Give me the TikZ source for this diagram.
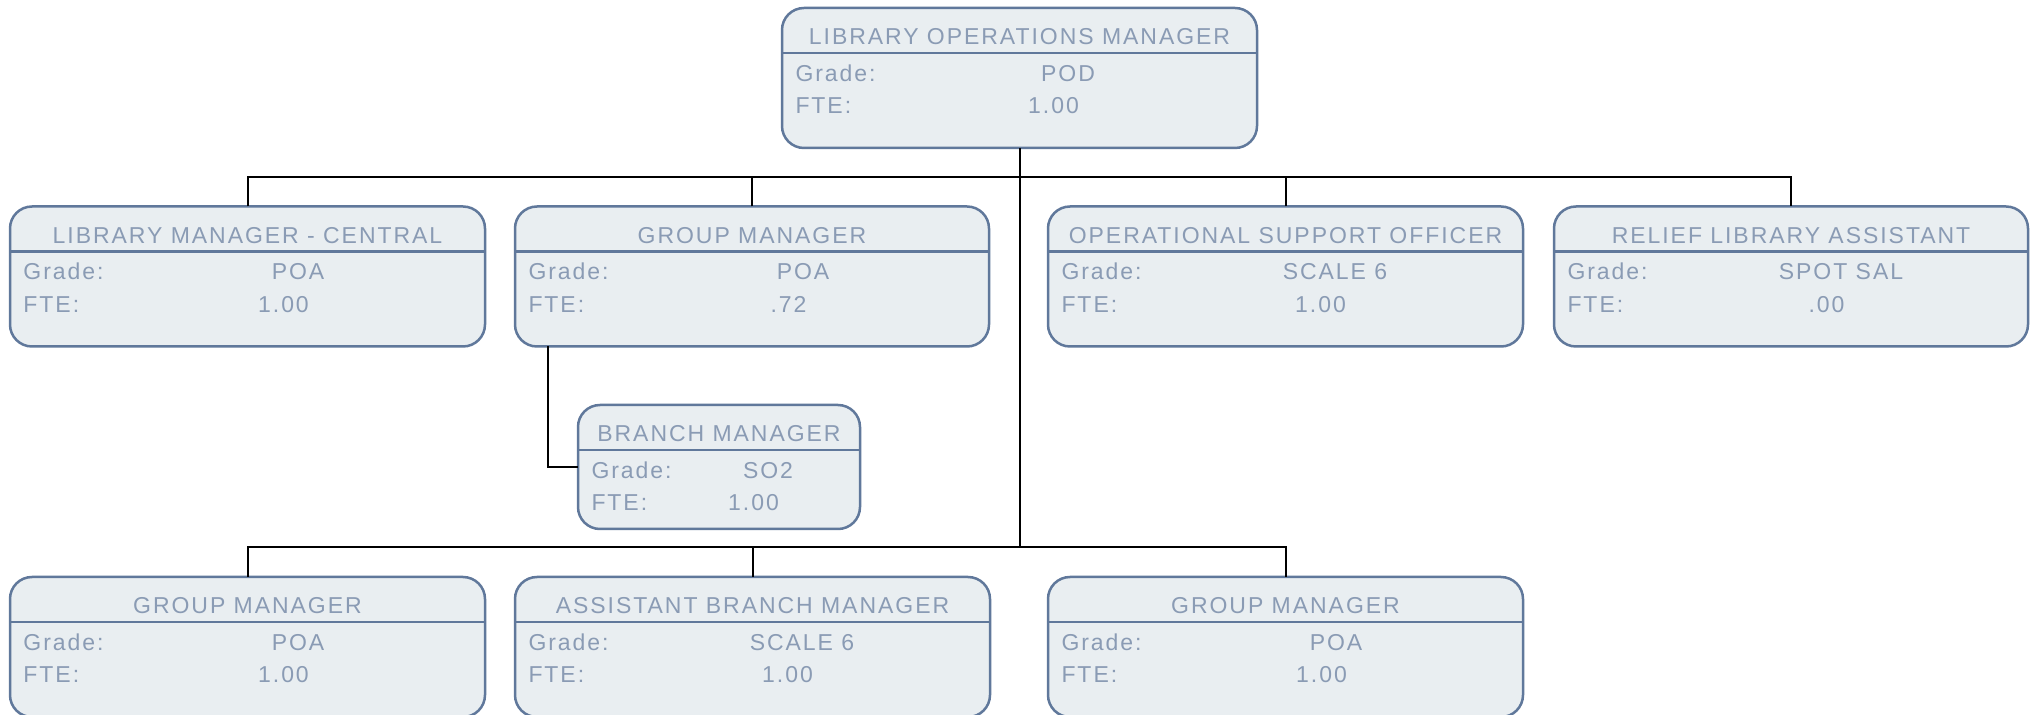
\documentclass[tikz,border=0pt]{standalone}
\usepackage{fontspec}
\newfontfamily\boxfont[LetterSpace=8.5]{Liberation Sans}
\definecolor{bord}{HTML}{60789B}
\definecolor{boxfill}{HTML}{E9EEF1}
\definecolor{txtc}{HTML}{8A9BB4}
\tikzset{
  obox/.style={draw=bord, fill=boxfill, line width=1.25pt, rounded corners=11pt,
    rectangle, anchor=north west, inner sep=0pt, outer sep=0pt},
  hline/.style={draw=bord, line width=1.25pt},
  lbl/.style={inner sep=0pt, outer sep=0pt, text=txtc, font=\boxfont\fontsize{11.5pt}{13pt}\selectfont},
  conn/.style={draw=black, line width=1pt},
}
% #1 name, #2 left, #3 top, #4 width, #5 height, #6 title, #7 grade, #8 fte, #9 grade offset
\newcommand\orgbox[9]{%
  \node[obox, minimum width={#4*0.5pt}, minimum height={#5*0.5pt}] (#1) at (#2,#3) {};
  \draw[hline] ([yshift=-22.5pt]#1.north west) -- ([yshift=-22.5pt]#1.north east);
  \node[lbl, anchor=base] (#1-title) at ({#2+#4/2},{#3+37}) {#6};
  \node[lbl, anchor=base west] (#1-gl) at ({#2+13.5},{#3+73.5}) {Grade:};
  \node[lbl, anchor=base] (#1-gv) at ({#2+#9},{#3+73.5}) {#7};
  \node[lbl, anchor=base west] (#1-fl) at ({#2+13.5},{#3+106}) {FTE:};
  \node[lbl, anchor=base] (#1-fv) at ({#2+#9-14.5},{#3+106}) {#8};
}
\begin{document}
\begin{tikzpicture}[x=0.5pt,y=-0.5pt]
\useasboundingbox[fill=white] (0,0) rectangle (2031,715);
\coordinate (busA) at (0,177);
\coordinate (busB) at (0,547);

\orgbox{top}{782}{8}{475}{140}{LIBRARY OPERATIONS MANAGER}{POD}{1.00}{286}
\orgbox{lm}{10}{206.5}{475}{140}{LIBRARY MANAGER - CENTRAL}{POA}{1.00}{288}
\orgbox{gmA}{515}{206.5}{474}{140}{GROUP MANAGER}{POA}{.72}{288}
\orgbox{oso}{1048}{206.5}{475}{140}{OPERATIONAL SUPPORT OFFICER}{SCALE 6}{1.00}{287}
\orgbox{rla}{1554}{206.5}{474}{140}{RELIEF LIBRARY ASSISTANT}{SPOT SAL}{.00}{287}
\orgbox{bm}{578}{405}{282}{124}{BRANCH MANAGER}{SO2}{1.00}{190}
\orgbox{gmB}{10}{577}{475}{140}{GROUP MANAGER}{POA}{1.00}{288}
\orgbox{abm}{515}{577}{475}{140}{ASSISTANT BRANCH MANAGER}{SCALE 6}{1.00}{287}
\orgbox{gmC}{1048}{577}{475}{140}{GROUP MANAGER}{POA}{1.00}{288}

% connectors
\draw[conn] (top.south) -- (top.south |- busB);
\draw[conn] (lm.north) -- (lm.north |- busA) -- (rla.north |- busA) -- (rla.north);
\draw[conn] (gmA.north) -- (gmA.north |- busA);
\draw[conn] (oso.north) -- (oso.north |- busA);
\draw[conn] (gmB.north) -- (gmB.north |- busB) -- (gmC.north |- busB) -- (gmC.north);
\draw[conn] (abm.north) -- (abm.north |- busB);
\draw[conn] ([xshift=16.5pt]gmA.south west) |- (bm.west);
\end{tikzpicture}
\end{document}
